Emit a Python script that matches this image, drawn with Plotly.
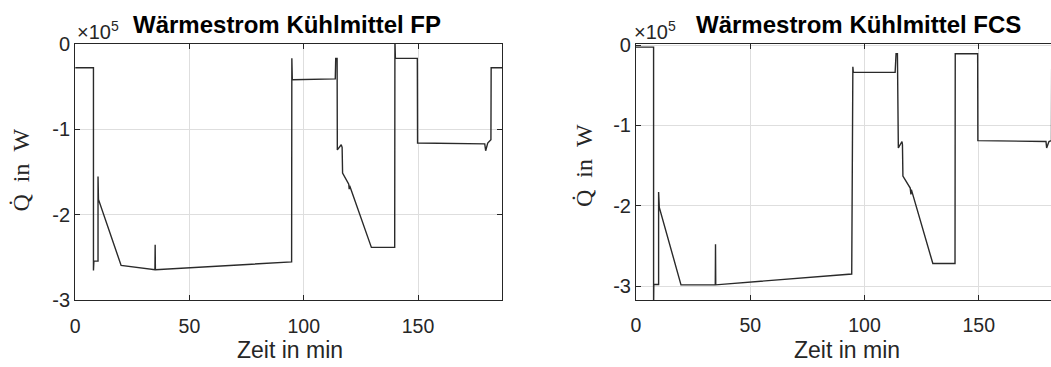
import plotly.graph_objects as go

W, H = 1051, 367

# ---- data (x in min, y in 1e5 W) ----
t_fp = [0, 8.0, 8.0, 8.2, 10.0, 10.0, 10.2, 20.1, 34.9, 35.0, 35.1, 94.7, 94.8, 95.0,
        113.8, 114.0, 114.6, 114.7, 116.4, 116.8, 117.0, 119.7, 119.9, 120.1, 129.6,
        139.8, 139.9, 140.1, 149.7, 149.8, 179.2, 179.6, 180.5, 181.9, 182.0, 187]
q_fp = [-0.28, -0.28, -2.65, -2.54, -2.54, -1.55, -1.82, -2.59, -2.64, -2.35, -2.64, -2.55, -0.17, -0.42,
        -0.41, -0.17, -0.17, -1.24, -1.18, -1.21, -1.51, -1.64, -1.70, -1.66, -2.38,
        -2.38, 0.05, -0.17, -0.17, -1.16, -1.17, -1.25, -1.16, -1.12, -0.28, -0.28]

t_fcs = [0, 7.7, 7.7, 7.8, 9.9, 9.9, 10.2, 19.7, 34.7, 34.8, 34.9, 94.4, 94.9, 95.1,
         113.4, 113.8, 114.4, 114.8, 116.4, 116.6, 116.8, 120.0, 120.3, 120.5, 129.9,
         139.6, 139.7, 149.5, 149.6, 179.4, 179.7, 180.7, 181.8, 181.9, 187]
q_fcs = [-0.025, -0.025, -3.3, -2.98, -2.98, -1.83, -2.02, -2.985, -2.985, -2.48, -2.985, -2.85, -0.27, -0.34,
         -0.34, -0.107, -0.107, -1.28, -1.20, -1.24, -1.63, -1.78, -1.86, -1.80, -2.72,
         -2.72, -0.107, -0.107, -1.19, -1.20, -1.28, -1.20, -1.19, -0.23, -0.23]

x_ticks = [0, 50, 100, 150]
x_ticktext = ["0", "50", "100", "150"]
y_ticks = [0, -1, -2, -3]
y_ticktext = ["0", "-1", "-2", "-3"]

titles = ["Wärmestrom Kühlmittel FP", "Wärmestrom Kühlmittel FCS"]
xlabel = "Zeit in min"
ylabel = "Q\u0307\u2002in\u2002W"

# ---- layout geometry (page pixels) ----
L1, R1 = 70.5, 499.5
L2, R2 = 634.0, 1051.0
top, bot1, bot2 = 34.9, 307.9, 307.3

def px(x):
    return x / W

def py(y):
    return 1 - y / H

AX = "#262626"
GRID = "#dedede"
SANS = "Liberation Sans, Arial, sans-serif"
SERIF = "Liberation Serif, Times New Roman, serif"

fig = go.Figure()
fig.add_trace(go.Scatter(x=t_fp, y=q_fp, mode="lines", line=dict(color="#2a2a2a", width=1.4),
                         xaxis="x", yaxis="y", showlegend=False))
fig.add_trace(go.Scatter(x=t_fcs, y=q_fcs, mode="lines", line=dict(color="#2a2a2a", width=1.4),
                         xaxis="x2", yaxis="y2", showlegend=False))

common_x = dict(tickvals=x_ticks, ticktext=x_ticktext, ticks="inside", ticklen=5, tickcolor=AX,
                showline=True, linecolor=AX, linewidth=1, mirror="ticks", showgrid=True,
                gridcolor=GRID, gridwidth=1, zeroline=False, ticklabelstandoff=8,
                tickfont=dict(family=SANS, size=19.5, color=AX))
common_y = dict(tickvals=y_ticks, ticktext=y_ticktext, ticks="inside", ticklen=5, tickcolor=AX,
                showline=True, linecolor=AX, linewidth=1, showgrid=True,
                gridcolor=GRID, gridwidth=1, zeroline=False,
                tickfont=dict(family=SANS, size=20, color=AX))

fig.update_layout(
    width=W, height=H, margin=dict(l=0, r=0, t=0, b=0),
    paper_bgcolor="white", plot_bgcolor="white",
    xaxis=dict(domain=[px(L1), px(R1)], range=[0, 186.8], anchor="y", **common_x),
    yaxis=dict(domain=[py(bot1), py(top)], range=[-3, 0], anchor="x", mirror="ticks", **common_y),
    xaxis2=dict(domain=[px(L2), px(R2)], range=[0, 181.6], anchor="y2", **common_x),
    yaxis2=dict(domain=[py(bot2), py(top)], range=[-3.172, 0.016], anchor="x2", mirror=False, **common_y),
)

ann = []
for (xl, xt, xc, t) in [(70, 127, 286, titles[0]), (630, 692, 846, titles[1])]:
    ann.append(dict(x=px(xl), y=py(20.5), xref="paper", yref="paper", xanchor="left", yanchor="middle",
                    text="×10<sup>5</sup>", showarrow=False, font=dict(family=SANS, size=20, color=AX)))
    ann.append(dict(x=px(xt), y=py(14.5), xref="paper", yref="paper", xanchor="left", yanchor="middle",
                    text="<b>" + t + "</b>", showarrow=False, font=dict(family=SANS, size=24, color="black")))
    ann.append(dict(x=px(xc), y=py(360.5), xref="paper", yref="paper", xanchor="center", yanchor="middle",
                    text=xlabel, showarrow=False, font=dict(family=SANS, size=23, color=AX)))
ann.append(dict(x=px(16.5), y=py(169.3), xref="paper", yref="paper", xanchor="center", yanchor="middle",
                text=ylabel, textangle=-90, showarrow=False, font=dict(family=SERIF, size=24, color=AX)))
ann.append(dict(x=px(582.0), y=py(164.6), xref="paper", yref="paper", xanchor="center", yanchor="middle",
                text=ylabel, textangle=-90, showarrow=False, font=dict(family=SERIF, size=24, color=AX)))
fig.update_layout(annotations=ann)

fig.write_html("out.html")
